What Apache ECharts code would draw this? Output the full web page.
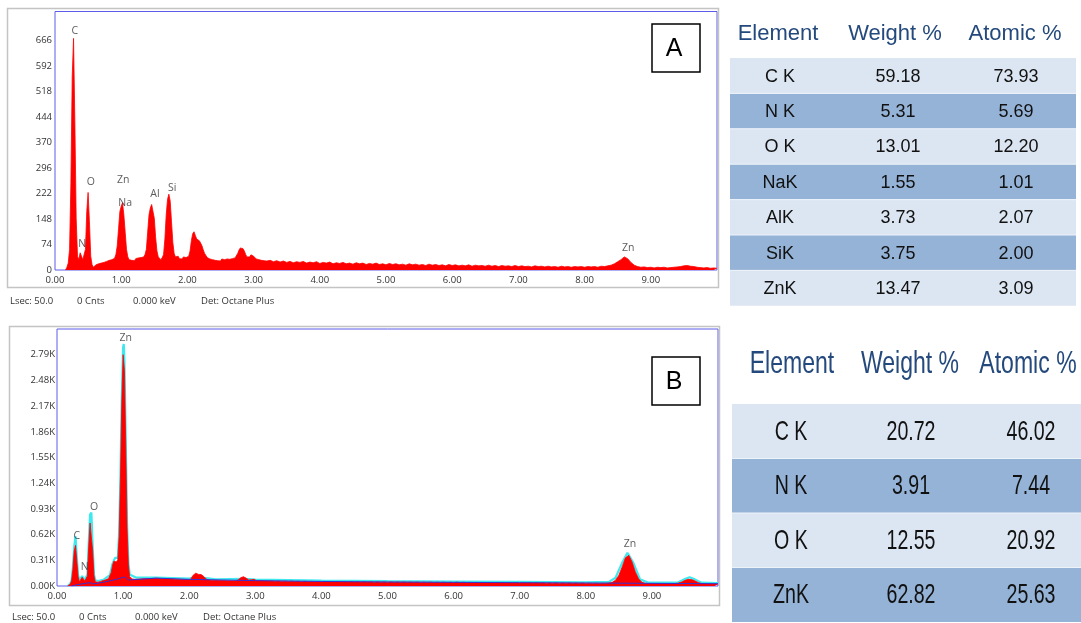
<!DOCTYPE html>
<html><head><meta charset="utf-8">
<script src="https://cdn.jsdelivr.net/npm/echarts@6/dist/echarts.min.js"></script>
<style>html,body{margin:0;padding:0;background:#fff}#c{width:1081px;height:623px}</style>
</head><body><div id="c"></div>
<script>
// ---------- DATA ----------
const fineStart = 0.16, fineStep = 0.02;     // energies 0.16 .. 3.20 keV
const coarseStart = 3.25, coarseStep = 0.05; // energies 3.25 .. 10.00 keV

const countsA_fine = [
  0,8,20,60,250,560,672,430,150,40,
  30,50,55,30,28,60,170,225,140,40,
  15,8,12,15,12,18,14,20,16,22,
  18,25,20,28,24,30,27,34,45,70,
  120,170,185,195,160,110,60,38,30,34,
  28,32,27,33,29,35,30,36,32,38,
  45,60,110,160,180,190,185,150,95,55,
  38,34,30,36,45,90,160,205,220,200,
  140,80,48,38,35,40,33,37,32,38,
  34,36,35,40,55,85,105,111,100,90,
  88,85,78,70,58,48,42,36,38,32,
  34,30,33,28,31,27,30,26,32,28,
  30,27,32,29,31,28,33,30,35,40,
  48,58,64,67,62,55,45,38,35,38,
  44,46,40,35,32,34,30,32,28,30,
  27,29,26];
const countsA_coarse = [
  28,24,27,23,26,22,25,21,24,22,
  25,20,23,21,24,19,22,20,23,18,
  21,19,22,18,20,17,21,18,20,16,
  19,17,20,16,18,15,19,16,18,15,
  17,14,18,15,17,14,16,13,17,14,
  16,13,15,12,16,13,15,12,14,12,
  15,11,14,12,13,11,14,11,13,10,
  13,11,12,10,13,10,12,10,11,9,
  12,10,11,9,11,9,10,8,11,9,
  10,8,10,9,10,8,10,9,10,8,
  11,10,12,14,18,24,30,38,33,22,
  14,10,8,9,7,8,6,8,7,8,
  6,7,8,9,10,12,13,11,10,8,
  7,6,7,5,6,5];

const countsB_fine = [
  0,5,20,60,200,420,490,300,110,50,
  60,105,110,60,45,120,480,760,775,420,
  120,50,40,45,50,55,60,65,70,75,
  80,90,110,160,250,300,313,290,320,600,
  1300,2200,2790,2600,1700,700,250,110,90,85,
  92,80,88,82,90,84,92,86,94,88,
  95,90,96,88,97,91,98,92,99,90,
  96,88,94,87,93,86,92,85,90,84,
  89,82,88,80,86,79,85,78,84,77,
  83,76,82,78,95,130,150,155,150,140,
  145,138,130,115,95,82,76,72,75,70,
  74,69,73,68,72,67,71,66,70,65,
  69,64,68,64,67,63,66,64,68,72,
  85,100,110,112,105,95,82,72,68,75,
  85,80,70,64,62,65,60,63,59,62,
  58,61,57];
const countsB_coarse = [
  60,56,59,55,58,54,57,53,56,52,
  56,51,55,51,54,50,54,50,53,49,
  53,49,52,48,52,48,51,47,51,47,
  50,46,50,46,49,45,49,45,48,45,
  48,44,47,44,47,43,46,43,46,42,
  45,42,45,41,44,41,46,41,44,40,
  43,40,43,39,42,39,42,38,41,38,
  41,37,40,37,40,36,39,36,39,35,
  38,35,38,34,37,34,37,33,36,33,
  36,32,35,32,35,31,34,31,33,31,
  33,32,36,45,70,130,230,340,370,290,
  170,85,45,32,29,30,28,29,27,28,
  27,28,30,35,48,68,80,78,62,42,
  30,26,25,24,24,23];

const fitB_energy = [0.16,0.20,0.22,0.24,0.26,0.28,0.30,0.32,0.34,0.36,
  0.38,0.40,0.42,0.44,0.46,0.48,0.50,0.52,0.54,0.56,
  0.58,0.62,0.70,0.80,0.84,0.88,0.92,0.94,0.96,0.98,
  1.00,1.01,1.02,1.04,1.06,1.08,1.10,1.20,1.50,2.00,
  2.10,2.25,2.40,2.84,3.00,4.00,5.00,6.00,7.00,8.00,
  8.35,8.45,8.55,8.63,8.72,8.82,8.95,9.40,9.50,9.57,
  9.65,9.75,10.00];
const fitB_counts = [0,25,70,220,470,600,340,130,70,70,
  120,130,75,60,140,520,860,885,470,140,
  70,60,75,130,270,340,340,650,1350,2280,
  2880,2920,2720,1780,760,280,140,100,100,90,
  110,95,80,85,78,65,58,54,50,45,
  50,100,280,400,280,80,40,45,85,105,
  80,40,35];

const bkgB_energy = [0.22,0.30,0.45,0.50,0.55,0.70,0.90,1.00,1.04,1.08,1.50,2.00,3.00,4.00,5.00,6.00,7.00,8.00,9.00,10.00];
const bkgB_counts = [0,15,35,40,25,45,80,105,105,72,95,80,65,55,48,44,40,36,32,28];

const yTicksA = [0,74,148,222,296,370,444,518,592,666];
const yTicksB = [0,310,620,930,1240,1550,1860,2170,2480,2790];

const peakNamesA = ['C','N','O','Zn','Na','Al','Si','Zn'];
const peakEnergyA = [0.30,0.41,0.54,1.03,1.06,1.51,1.77,8.66];
const peakCountsA = [693,76,256,262,195,221,238,64];

const peakNamesB = ['Zn','O','C','N','Zn'];
const peakEnergyB = [1.04,0.56,0.30,0.42,8.67];
const peakCountsB = [2990,953,603,229,507];

const footerItems = ['Lsec: 50.0','0 Cnts','0.000 keV','Det: Octane Plus'];

const headerCols = ['Element','Weight %','Atomic %'];
const elemA = ['C K','N K','O K','NaK','AlK','SiK','ZnK'];
const weightA = [59.18,5.31,13.01,1.55,3.73,3.75,13.47];
const atomicA = [73.93,5.69,12.20,1.01,2.07,2.00,3.09];
const elemB = ['C K','N K','O K','ZnK'];
const weightB = [20.72,3.91,12.55,62.82];
const atomicB = [46.02,7.44,20.92,25.63];

// ---------- BUILD ----------
function toPairs(fine, coarse) {
  const out = [];
  fine.forEach((v,i)=>out.push([+(fineStart+i*fineStep).toFixed(2), v]));
  coarse.forEach((v,i)=>out.push([+(coarseStart+i*coarseStep).toFixed(2), v]));
  return out;
}
const zip = (a,b)=>a.map((x,i)=>[x,b[i]]);
const FONT = '"Open Sans", "Noto Sans", sans-serif';

const graphics = [];
// outer frames
graphics.push({type:'rect', shape:{x:7.5,y:8.5,width:711,height:279}, style:{fill:'none',stroke:'#c4c4c4',lineWidth:1.5}, z:0});
graphics.push({type:'rect', shape:{x:9.5,y:326.5,width:710,height:279}, style:{fill:'none',stroke:'#c4c4c4',lineWidth:1.5}, z:0});
// panel letters
[['A',24],['B',357]].forEach(([t,y])=>{
  graphics.push({type:'rect', shape:{x:652,y:y,width:48,height:48}, style:{fill:'#fff',stroke:'#000',lineWidth:1.5}, z:10});
  graphics.push({type:'text', x:674, y:y+25, style:{text:t, font:'25px "Liberation Sans", Arial, sans-serif', fill:'#000', align:'center', verticalAlign:'middle'}, z:11});
});
// footers
const footerX = [10,77,133,201];
[301, 617].forEach((fy,k)=>{
  footerItems.forEach((t,i)=>{
    graphics.push({type:'text', x:footerX[i]+k*2, y:fy, style:{text:t, font:'9.5px '+FONT, fill:'#333', verticalAlign:'middle'}});
  });
});
// tables
function buildTable(o) {
  headerCols.forEach((h,i)=>{
    graphics.push({type:'text', x:o.hx[i], y:o.hy, scaleX:o.hScale, style:{text:h, font:o.hFont, fill:'#24497c', align:'center', verticalAlign:'middle'}});
  });
  o.elem.forEach((e,r)=>{
    const top = o.top + r*o.rh;
    graphics.push({type:'rect', shape:{x:o.x0,y:top,width:o.w,height:o.rh}, style:{fill: r%2===0?'#dce6f2':'#95b3d7'}});
    if (r>0) graphics.push({type:'line', shape:{x1:o.x0,y1:top,x2:o.x0+o.w,y2:top}, style:{stroke:'#eef3f9',lineWidth:1}});
    const vals = [e, o.weight[r].toFixed(2), o.atomic[r].toFixed(2)];
    vals.forEach((v,i)=>{
      graphics.push({type:'text', x:o.cx[i], y:top+o.rh/2+1, scaleX:o.rScale, style:{text:v, font:o.rFont, fill:'#111', align:'center', verticalAlign:'middle'}});
    });
  });
}
buildTable({elem:elemA, weight:weightA, atomic:atomicA, x0:730, w:346, top:58, rh:35.4,
  hx:[778,895,1015], hy:34, hFont:'22px "Liberation Sans", Arial, sans-serif', hScale:1,
  cx:[780,898,1016], rFont:'18px "Liberation Sans", Arial, sans-serif', rScale:1});
buildTable({elem:elemB, weight:weightB, atomic:atomicB, x0:732, w:349, top:404, rh:54.5,
  hx:[792,910,1028], hy:364, hFont:'32px "Liberation Sans", Arial, sans-serif', hScale:0.72,
  cx:[791,911,1031], rFont:'28px "Liberation Sans", Arial, sans-serif', rScale:0.7});

const axisLabelStyle = {color:'#333', fontSize:9.5, fontFamily:FONT};
function xAxis(gi) {
  return {type:'value', gridIndex:gi, min:0, max:10, interval:1,
    axisLine:{show:false}, axisTick:{show:false}, splitLine:{show:false},
    axisLabel:Object.assign({margin:5, formatter:v=>v>=10?'':v.toFixed(2)}, axisLabelStyle)};
}
const peakLabel = {show:true, position:'inside', formatter:p=>p.name, color:'#333', fontSize:10.5, fontFamily:FONT};

const option = {
  animation:false,
  backgroundColor:'#fff',
  grid:[
    {left:55, top:11.5, right:364, bottom:353, show:true, borderColor:'#5c5ce8', borderWidth:1, backgroundColor:'#fff', containLabel:false},
    {left:57, top:329, right:363, bottom:37, show:true, borderColor:'#5c5ce8', borderWidth:1, backgroundColor:'#fff', containLabel:false}
  ],
  xAxis:[xAxis(0), xAxis(1)],
  yAxis:[
    {type:'value', gridIndex:0, min:0, max:750, axisLine:{show:false}, axisTick:{show:false}, splitLine:{show:false},
      axisLabel:Object.assign({margin:3, customValues:yTicksA, formatter:v=>String(v)}, axisLabelStyle)},
    {type:'value', gridIndex:1, min:0, max:3100, axisLine:{show:false}, axisTick:{show:false}, splitLine:{show:false},
      axisLabel:Object.assign({margin:2, customValues:yTicksB, formatter:v=>(v/1000).toFixed(2)+'K'}, axisLabelStyle)}
  ],
  graphic:{elements:graphics},
  series:[
    {type:'line', xAxisIndex:0, yAxisIndex:0, data:toPairs(countsA_fine, countsA_coarse), showSymbol:false, silent:true,
      lineStyle:{color:'#ff0000', width:0.8}, areaStyle:{color:'#ff0000', opacity:1}},
    {type:'line', xAxisIndex:1, yAxisIndex:1, data:zip(fitB_energy, fitB_counts), showSymbol:false, silent:true,
      lineStyle:{color:'#3ee8ef', width:2.2}, z:2},
    {type:'line', xAxisIndex:1, yAxisIndex:1, data:toPairs(countsB_fine, countsB_coarse), showSymbol:false, silent:true,
      lineStyle:{color:'#ff0000', width:0.8}, areaStyle:{color:'#ff0000', opacity:1}, z:3},
    {type:'line', xAxisIndex:1, yAxisIndex:1, data:zip(bkgB_energy, bkgB_counts), showSymbol:false, silent:true,
      lineStyle:{color:'#3a2fd0', width:1}, z:4},
    {type:'scatter', xAxisIndex:0, yAxisIndex:0, symbolSize:0, silent:true, z:5,
      data:peakNamesA.map((n,i)=>({name:n, value:[peakEnergyA[i], peakCountsA[i]]})), label:peakLabel},
    {type:'scatter', xAxisIndex:1, yAxisIndex:1, symbolSize:0, silent:true, z:5,
      data:peakNamesB.map((n,i)=>({name:n, value:[peakEnergyB[i], peakCountsB[i]]})), label:peakLabel}
  ]
};
const chart = echarts.init(document.getElementById('c'), null, {renderer:'canvas'});
chart.setOption(option);
</script>
</body></html>
